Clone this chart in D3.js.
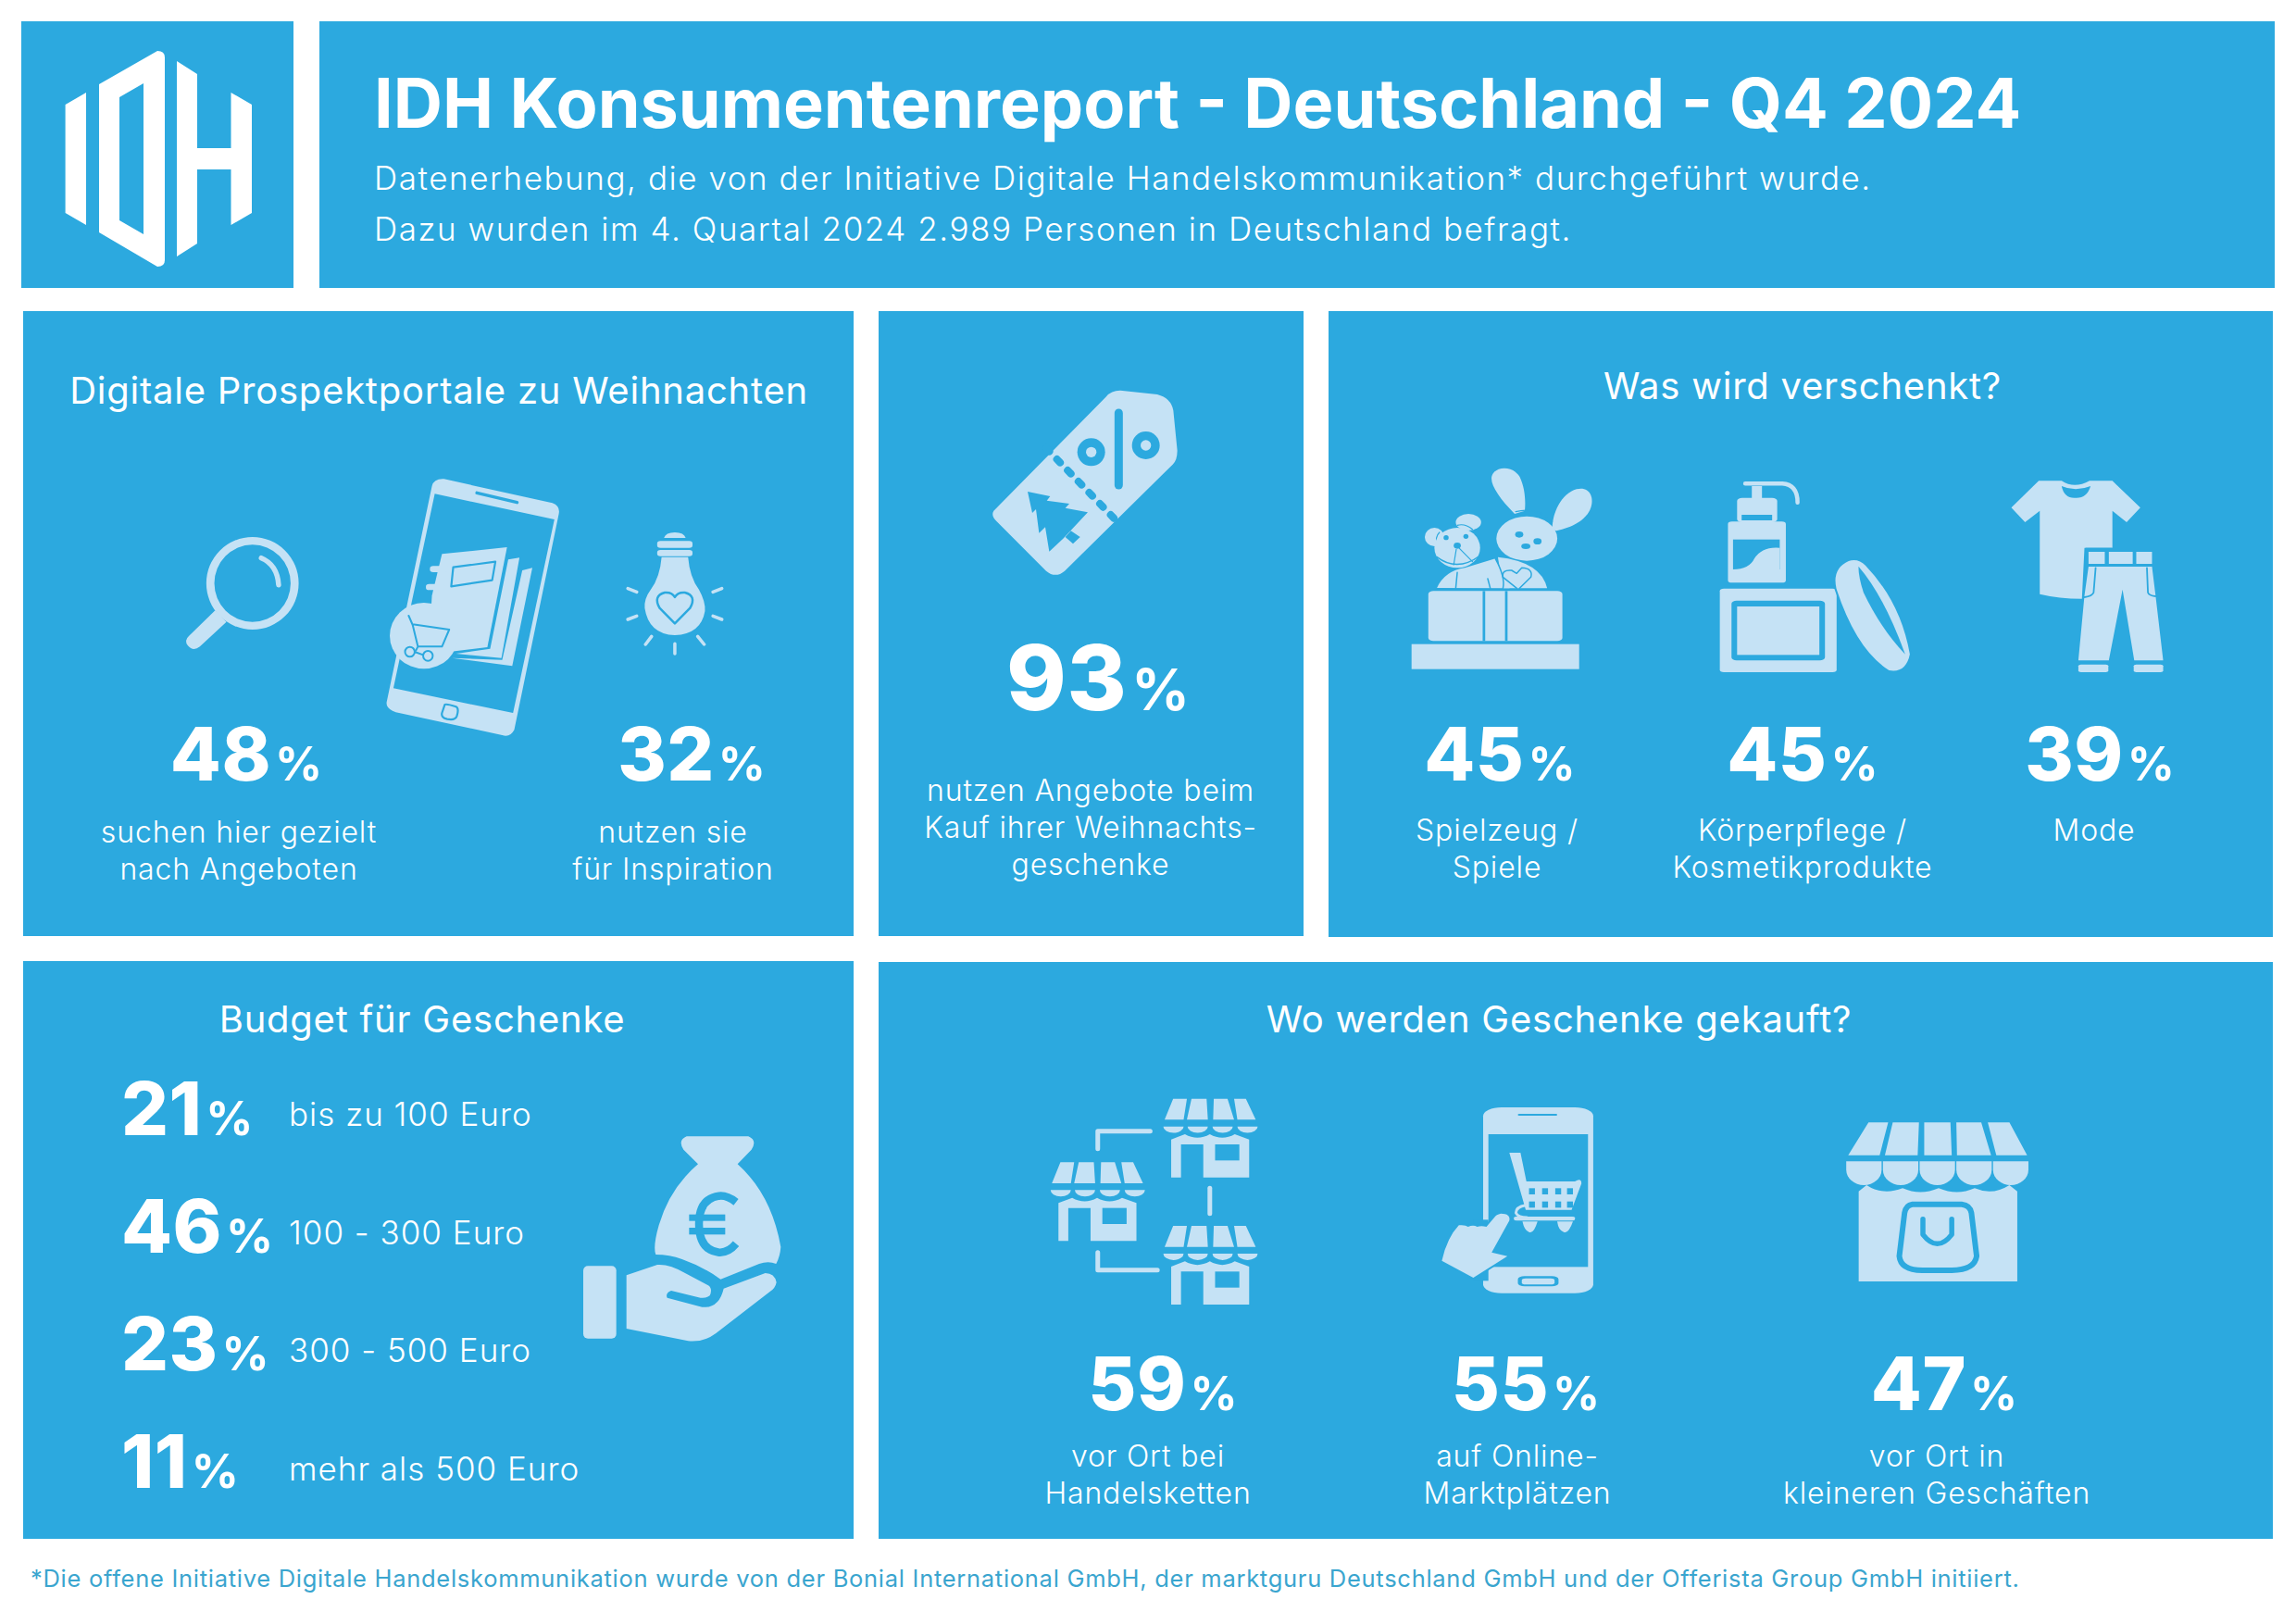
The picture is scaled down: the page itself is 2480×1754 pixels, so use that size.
<!DOCTYPE html>
<html lang="de">
<head>
<meta charset="utf-8">
<title>IDH Konsumentenreport</title>
<script src="https://cdn.jsdelivr.net/npm/d3@7"></script>
<style>
  html, body { margin: 0; padding: 0; background: #fff; }
  svg { display: block; }
  svg * { vector-effect: non-scaling-stroke; }
  text { font-family: Inter, "Noto Sans", sans-serif; fill: #fff; }
</style>
</head>
<body>
<svg></svg>
<script>
// data
const title = "IDH Konsumentenreport - Deutschland - Q4 2024";
const subtitle = [
  "Datenerhebung, die von der Initiative Digitale Handelskommunikation* durchgeführt wurde.",
  "Dazu wurden im 4. Quartal 2024 2.989 Personen in Deutschland befragt."
];
const footnote = "*Die offene Initiative Digitale Handelskommunikation wurde von der Bonial International GmbH, der marktguru Deutschland GmbH und der Offerista Group GmbH initiiert.";

const portalTitle = "Digitale Prospektportale zu Weihnachten";
const portalKeys = ["suchen", "nutzen"];
const portalValues = [48, 32];
const portalLabels = [["suchen hier gezielt", "nach Angeboten"], ["nutzen sie", "für Inspiration"]];

const offerValue = 93;
const offerLabel = ["nutzen Angebote beim", "Kauf ihrer Weihnachts-", "geschenke"];

const giftTitle = "Was wird verschenkt?";
const giftKeys = ["spielzeug", "pflege", "mode"];
const giftValues = [45, 45, 39];
const giftLabels = [["Spielzeug /", "Spiele"], ["Körperpflege /", "Kosmetikprodukte"], ["Mode"]];

const budgetTitle = "Budget für Geschenke";
const budgetLabels = ["bis zu 100 Euro", "100 - 300 Euro", "300 - 500 Euro", "mehr als 500 Euro"];
const budgetValues = [21, 46, 23, 11];

const shopTitle = "Wo werden Geschenke gekauft?";
const shopKeys = ["ketten", "online", "klein"];
const shopValues = [59, 55, 47];
const shopLabels = [["vor Ort bei", "Handelsketten"], ["auf Online-", "Marktplätzen"], ["vor Ort in", "kleineren Geschäften"]];

const blue = "#2ca9df";
const light = "#c5e2f5";

const svg = d3.select("svg").attr("width", 2480).attr("height", 1754);

// panels
const panel = (x0, y0, x1, y1) => svg.append("rect")
  .attr("x", x0).attr("y", y0).attr("width", x1 - x0).attr("height", y1 - y0).attr("fill", blue);
panel(23, 23, 317, 311);
panel(345, 23, 2457, 311);
panel(25, 336, 922, 1011);
panel(949, 336, 1408, 1011);
panel(1435, 336, 2455, 1012);
panel(25, 1038, 922, 1662);
panel(949, 1039, 2455, 1662);

// positions
const portalNum = d3.scaleOrdinal().domain(portalKeys).range([266, 747]);
const portalCap = d3.scaleOrdinal().domain(portalKeys).range([258, 727]);
const giftNum = d3.scaleOrdinal().domain(giftKeys).range([1620, 1947, 2268]);
const giftCap = d3.scaleOrdinal().domain(giftKeys).range([1617, 1947, 2262]);
const shopNum = d3.scaleOrdinal().domain(shopKeys).range([1256, 1648, 2100]);
const shopCap = d3.scaleOrdinal().domain(shopKeys).range([1240, 1639, 2092]);
const budgetY = d3.scalePoint().domain(budgetLabels).range([1226, 1607]);
const budgetCapY = d3.scalePoint().domain(budgetLabels).range([1216, 1599]);

function label(txt, x, y, size, opts = {}) {
  return svg.append("text").attr("x", x).attr("y", y)
    .attr("font-size", size)
    .attr("font-weight", opts.weight || 300)
    .attr("text-anchor", opts.anchor || "middle")
    .attr("letter-spacing", opts.spacing || 0)
    .style("fill", opts.fill || "#fff")
    .text(txt);
}

function stat(value, x, y, size, anchor = "middle") {
  const t = svg.append("text").attr("x", x).attr("y", y)
    .attr("text-anchor", anchor).attr("font-weight", 800);
  t.append("tspan").attr("font-size", size).attr("letter-spacing", 0.5).text(value);
  t.append("tspan").attr("font-size", size * 0.63).attr("font-weight", 700).attr("dx", size * 0.05).text("%");
}

function caption(lines, x, y) {
  lines.forEach((l, i) => label(l, x, y + i * 40, 32, { spacing: 0.85 }));
}

// header
label(title, 404, 138, 73.7, { anchor: "start", weight: 700 });
subtitle.forEach((s, i) => label(s, 404, 205 + i * 55, 35, { anchor: "start", spacing: 1.55 }));
label(footnote, 33, 1714, 25.5, { anchor: "start", fill: "#3aa5cf", spacing: 0.72, weight: 400 });

// panel titles
label(portalTitle, 474, 436, 40, { spacing: 0.76, weight: 400 });
label(giftTitle, 1947, 431, 40, { spacing: 0.76, weight: 400 });
label(budgetTitle, 456, 1115, 40, { spacing: 0.76, weight: 400 });
label(shopTitle, 1684, 1115, 40, { spacing: 0.76, weight: 400 });

// numbers and captions
portalKeys.forEach((k, i) => {
  stat(portalValues[i], portalNum(k), 843, 80);
  caption(portalLabels[i], portalCap(k), 910);
});
stat(offerValue, 1186, 767, 98);
caption(offerLabel, 1178, 865);
giftKeys.forEach((k, i) => {
  stat(giftValues[i], giftNum(k), 843, 80);
  caption(giftLabels[i], giftCap(k), 908);
});
shopKeys.forEach((k, i) => {
  stat(shopValues[i], shopNum(k), 1523, 80);
  caption(shopLabels[i], shopCap(k), 1584);
});
budgetLabels.forEach((l, i) => {
  stat(budgetValues[i], 131, budgetY(l), 80, "start");
  label(l, 312, budgetCapY(l), 35, { anchor: "start", spacing: 1 });
});

// icons: drawn in their own local grid, mapped on the page by origin and scale
const icon = (x0, y0, fx, fy) => svg.append("g")
  .attr("transform", `translate(${x0},${y0}) scale(${1 / fx},${1 / fy})`);
const fillPath = (g, d, color = light, rule = "nonzero") =>
  g.append("path").attr("d", d).attr("fill", color).attr("fill-rule", rule);
const strokePath = (g, d, w, color = blue) =>
  g.append("path").attr("d", d).attr("fill", "none").attr("stroke", color)
    .attr("stroke-width", w).attr("stroke-linecap", "round").attr("stroke-linejoin", "round");
const box = (g, x0, y0, x1, y1, r = 0, color = light) =>
  g.append("rect").attr("x", x0).attr("y", y0).attr("width", x1 - x0).attr("height", y1 - y0)
    .attr("rx", r).attr("ry", r).attr("fill", color);
const blob = (g, cx, cy, rx, ry, color = light) =>
  g.append("ellipse").attr("cx", cx).attr("cy", cy).attr("rx", rx).attr("ry", ry).attr("fill", color);

// logo
const logo = icon(0, 0, 1, 1);
fillPath(logo, "M70.6 113L93 100V243L70.6 230Z", "#fff");
fillPath(logo, "M107 91L170 55Q178 55 178 62V281Q178 288 170 288L107 251ZM129 105V238L155 253V90Z", "#fff", "evenodd");
fillPath(logo, "M191 66L213 80V160H249.5V100L272 113V230L249.5 243V183H213V263L191 277Z", "#fff");

// magnifier, phone and bulb
const p = icon(150, 480, 2.306, 3);
fillPath(p, "M168 450A115 150 0 1 0 398 450A115 150 0 1 0 168 450ZM188 450A95 125 0 1 1 378 450A95 125 0 1 1 188 450Z", light, "evenodd");
fillPath(p, "M190 538L218 575L152 655Q135 672 122 652Q112 635 125 620Z");
strokePath(p, "M305 368Q345 390 348 455", 5.5, light);
fillPath(p, "M760 112L1030 190Q1050 200 1046 225L935 925Q925 950 905 942L640 868Q612 855 618 830L730 135Q735 110 760 112ZM737 160L634 790L932 870L1035 243Z", light, "evenodd");
strokePath(p, "M842 157L942 188", 3.5);
fillPath(p, "M762 843Q768 840 790 850Q798 855 792 880Q788 895 768 890Q752 885 755 870Z", light);
strokePath(p, "M762 843Q768 840 790 850Q798 855 792 880Q788 895 768 890Q752 885 755 870Z", 2.2);
fillPath(p, "M955 408L980 400L930 718L780 692L905 698Z");
fillPath(p, "M920 373L948 367L903 692L790 678L875 662Z");
fillPath(p, "M755 355L917 333L868 657L720 680L730 490Z");
fillPath(p, "M783 398L888 380L880 440L778 460Z");
strokePath(p, "M783 398L888 380L880 440L778 460Z", 2.2);
box(p, 725, 394, 772, 414, 8);
box(p, 715, 452, 762, 472, 8);
blob(p, 710, 620, 85, 107);
strokePath(p, "M672 555L682 585L695 655L755 655L773 600L682 583M695 655L690 668", 2);
strokePath(p, "M663 672A12 16 0 1 0 687 672A12 16 0 1 0 663 672ZM708 685A12 16 0 1 0 732 685A12 16 0 1 0 708 685ZM687 672L708 682", 2);
fillPath(p, "M1308 303Q1312 285 1335 285Q1358 285 1362 303Z");
box(p, 1291, 313, 1379, 335, 8);
box(p, 1291, 342, 1379, 362, 8);
fillPath(p, "M1302 365L1368 365Q1372 430 1395 470Q1412 510 1410 540Q1400 615 1335 618Q1270 615 1260 530Q1258 500 1275 470Q1298 430 1302 365Z");
strokePath(p, "M1335 580L1297 530Q1280 490 1310 480Q1328 478 1335 495Q1342 478 1360 480Q1390 490 1373 530Z", 2.5);
strokePath(p, "M1218 467L1240 478M1218 567L1240 556M1452 467L1430 478M1452 567L1430 556M1277 622L1262 648M1392 622L1408 648M1335 646L1335 678", 3.5, light);

// price tag
const tag = icon(1040, 400, 3, 3);
fillPath(tag, "M100 455L465 85Q480 65 510 65L630 78Q675 90 682 130L695 260Q695 290 680 305L330 650Q300 675 270 650L110 490Q90 470 100 455Z");
strokePath(tag, "M270 252L500 490", 8, blue).attr("stroke-dasharray", "5 11.7");
strokePath(tag, "M505 138L505 372", 9);
blob(tag, 416, 265, 45, 45, blue); blob(tag, 416, 265, 17, 17);
blob(tag, 593, 243, 45, 45, blue); blob(tag, 593, 243, 17, 17);
fillPath(tag, "M210 393L283 408L272 422L345 432L332 446L405 460L325 545L280 587L267 508L247 527L237 450L225 462Z", blue);
fillPath(tag, "M350 520L380 540L357 562L332 540Z", blue);

// toys, cosmetics, clothes
const g = icon(1500, 490, 1.823, 3);
box(g, 45, 617, 375, 698);
box(g, 78, 445, 342, 607, 10);
box(g, 185, 445, 190, 607, 0, blue);
box(g, 229, 445, 234, 607, 0, blue);
fillPath(g, "M215 335Q300 350 312 436L225 436Z");
fillPath(g, "M248 195C215 140 195 90 205 65C215 40 245 40 258 75C268 110 270 150 268 185Z");
fillPath(g, "M322 245C322 190 340 130 370 115C395 105 405 140 398 175C390 215 360 240 330 250Z");
blob(g, 272, 275, 60, 72);
strokePath(g, "M250 188Q290 170 322 220", 1.2);
blob(g, 257, 262, 8, 10, blue); blob(g, 293, 284, 8, 10, blue); blob(g, 270, 300, 9, 9, blue);
fillPath(g, "M95 435Q110 380 150 370L210 340L238 436Z");
strokePath(g, "M210 340Q230 400 225 436M195 405L200 436M135 385L132 436", 1.5);
fillPath(g, "M255 440L225 400Q222 375 242 378L252 388L262 370Q285 372 280 400Z");
strokePath(g, "M255 440L225 400Q222 375 242 378L252 388L262 370Q285 372 280 400Z", 1.5);
blob(g, 90, 270, 19, 30); blob(g, 157, 222, 25, 27);
strokePath(g, "M97 295Q90 270 100 255M135 232Q150 225 165 245", 1.2);
blob(g, 135, 305, 45, 65);
strokePath(g, "M95 335Q135 385 180 330", 1.5);
blob(g, 113, 272, 5, 8, blue); blob(g, 152, 268, 5, 8, blue); blob(g, 135, 298, 7, 10, blue);
strokePath(g, "M133 310L128 360M138 305L165 350", 1.2);

box(g, 715, 105, 735, 150);
strokePath(g, "M702 97L775 97Q805 100 805 158", 4.5, light);
box(g, 686, 143, 765, 222, 10);
box(g, 695, 198, 755, 216, 0, blue);
box(g, 668, 220, 782, 418, 8);
box(g, 678, 278, 770, 375, 0, blue);
fillPath(g, "M678 375Q710 375 720 340Q735 300 770 305L770 375Z");
box(g, 652, 437, 882, 708, 8);
box(g, 675, 476, 859, 670, 10, blue);
box(g, 686, 495, 848, 652);
strokePath(g, "M905 345Q870 370 880 440Q920 640 985 705Q1020 715 1028 650Q1010 480 940 360Q925 335 905 345Z", 2).attr("fill", light);
fillPath(g, "M925 365Q975 460 1017 650Q970 570 935 450Q925 400 925 365Z", blue);

fillPath(g, "M1280 88L1325 88Q1350 115 1380 88L1425 88L1480 175L1453 222L1425 185L1425 305L1370 305L1365 470Q1320 470 1282 455L1282 185L1253 222L1226 175Z");
fillPath(g, "M1325 105Q1352 125 1382 105Q1375 145 1352 143Q1330 145 1325 105Z", blue);
box(g, 1372, 305, 1425, 480, 0, blue);
box(g, 1378, 318, 1410, 357); box(g, 1418, 318, 1465, 357); box(g, 1472, 318, 1503, 357);
fillPath(g, "M1378 366L1503 366L1510 460L1525 670L1468 670L1445 440L1418 670L1358 670L1370 460Z");
strokePath(g, "M1392 370L1388 450Q1385 462 1370 465M1493 370L1495 450Q1497 460 1510 462", 1.8);
box(g, 1358, 683, 1417, 708, 5); box(g, 1467, 683, 1525, 708, 5);

// money bag and hand
const m = icon(600, 1200, 3, 3);
fillPath(m, "M425 82L625 82Q655 95 635 125L590 172Q700 270 730 440Q728 470 715 495Q690 485 660 495L535 545Q480 505 410 480Q370 465 325 465Q315 440 335 370Q370 250 462 172L415 125Q395 95 425 82Z");
strokePath(m, "M585 295Q555 272 530 275Q465 285 465 365Q465 450 530 458Q560 460 585 430", 8.5).attr("stroke-linecap", "butt");
box(m, 433, 335, 550, 356, 0, blue);
box(m, 433, 378, 550, 400, 0, blue);
box(m, 90, 502, 197, 737, 15);
fillPath(m, "M230 532L330 498Q370 495 420 525L495 565Q510 575 500 598Q490 607 470 605L375 582Q355 590 362 605L475 635Q530 640 545 575L680 525Q710 525 716 555Q712 575 695 585L520 720Q480 750 430 745L230 705Z");

// shops
const s = icon(1110, 1170, 1.4126, 3);
function smallShop(dx, dy) {
  const h = s.append("g").attr("transform", `translate(${dx},${dy})`);
  fillPath(h, "M209 118L222 50L243 50L238 118ZM243 118L250 50L273 50L275 118ZM283 118L284 50L305 50L315 118ZM320 118L315 50L333 50L348 118Z");
  fillPath(h, "M207 140H238A15 20 0 0 1 207 140ZM244 140H275A15 20 0 0 1 244 140ZM282 140H313A15 20 0 0 1 282 140ZM320 140H351A15 20 0 0 1 320 140Z");
  fillPath(h, "M219 305V182L240 165Q259 188 278 165Q297 188 316 165L338 182V305H268V198H234V305Z");
  box(h, 286, 198, 323, 250, 0, blue);
}
smallShop(0, 0);
smallShop(-172, 206);
smallShop(0, 412);
strokePath(s, "M187 155L107 155L107 212", 5, light);
strokePath(s, "M278 340L278 422", 5, light);
strokePath(s, "M107 548L107 605L198 605", 5, light);

box(s, 695, 78, 863, 680, 28);
box(s, 703, 165, 855, 595, 0, blue);
box(s, 748, 99, 808, 105, 2, blue);
box(s, 748, 625, 810, 658, 10, blue);
box(s, 754, 632, 804, 652, 6);
fillPath(s, "M735 225L752 225L761 318L835 318Q845 305 845 325L830 410H760Z");
[340, 383].forEach(y => [765, 785, 805, 823].forEach(x => box(s, x, y, x + 9, y + 20, 0, blue)));
box(s, 742, 432, 835, 445, 4);
strokePath(s, "M760 395Q745 400 745 420Q748 435 762 435", 3, light);
fillPath(s, "M755 448H778Q772 490 765 482Q758 478 755 448ZM808 448H832Q825 490 818 482Q810 478 808 448Z");
box(s, 680, 442, 703, 640, 0, blue);
const handPath = "M722 422Q737 422 735 445L708 548L732 560L680 630L632 575Q640 500 658 460Q668 458 672 465Q680 458 686 465Q692 460 700 465L712 435Q715 425 722 422Z";
strokePath(s, handPath, 4);
fillPath(s, handPath);

fillPath(s, "M1252 233L1283 127H1313L1300 233ZM1308 233L1320 127H1360L1358 233ZM1368 233V127H1408L1410 233ZM1418 233L1417 127H1455L1470 233ZM1478 233L1465 127H1498L1525 233Z");
[1249, 1305, 1361, 1417, 1473].forEach(x => fillPath(s, `M${x} 253H${x + 54}V280A27 50 0 0 1 ${x} 280Z`));
fillPath(s, "M1268 642V350L1280 330Q1305 365 1335 340Q1362 365 1390 340Q1418 365 1445 340Q1472 365 1498 330L1510 350V642Z");
strokePath(s, "M1350 392L1425 392Q1438 395 1440 420L1448 560Q1445 605 1410 606L1365 606Q1332 605 1330 560L1338 420Q1340 395 1350 392Z", 6);
strokePath(s, "M1366 440L1366 490Q1388 550 1410 490L1410 440", 5.5);
</script>
</body>
</html>
